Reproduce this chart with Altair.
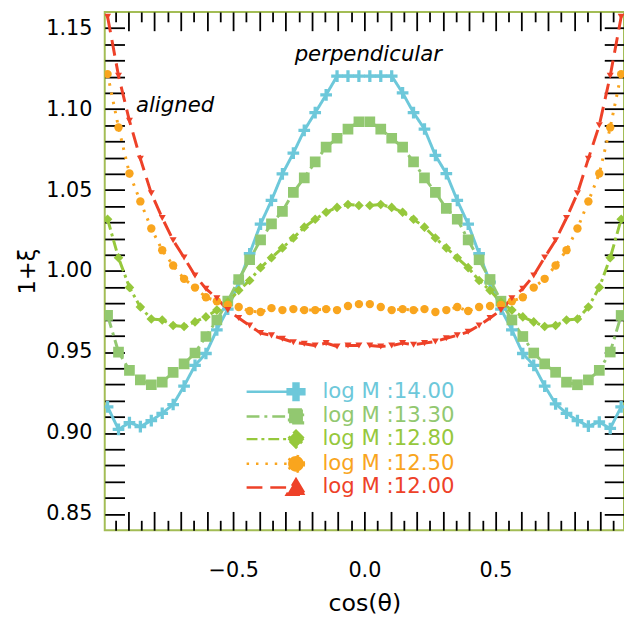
import altair as alt
import pandas as pd

FONT = "DejaVu Sans"
FRAME = "#a3bd55"

series_names = ["log M :14.00", "log M :13.30", "log M :12.80", "log M :12.50", "log M :12.00"]
colors = ["#6dc8da", "#92c870", "#96c83c", "#f9a51e", "#ee4128"]

cos_theta = [-0.9792, -0.9375, -0.8958, -0.8542, -0.8125, -0.7708, -0.7292, -0.6875,
             -0.6458, -0.6042, -0.5625, -0.5208, -0.4792, -0.4375, -0.3958, -0.3542,
             -0.3125, -0.2708, -0.2292, -0.1875, -0.1458, -0.1042, -0.0625, -0.0208,
             0.0208, 0.0625, 0.1042, 0.1458, 0.1875, 0.2292, 0.2708, 0.3125,
             0.3542, 0.3958, 0.4375, 0.4792, 0.5208, 0.5625, 0.6042, 0.6458,
             0.6875, 0.7292, 0.7708, 0.8125, 0.8542, 0.8958, 0.9375, 0.9792]

xi_1400 = [0.9162, 0.9022, 0.9064, 0.9040, 0.9077, 0.9122, 0.9176, 0.9290, 0.9418, 0.9491, 0.9637, 0.9765,
           0.9930, 1.0107, 1.0290, 1.0436, 1.0600, 1.0728, 1.0869, 1.0978, 1.1088, 1.1204, 1.1204, 1.1204,
           1.1204, 1.1204, 1.1204, 1.1100, 1.0978, 1.0877, 1.0714, 1.0602, 1.0436, 1.0290, 1.0107, 0.9932,
           0.9765, 0.9637, 0.9491, 0.9418, 0.9290, 0.9180, 0.9122, 0.9077, 0.9043, 0.9068, 0.9028, 0.9162]
xi_1330 = [0.9726, 0.9500, 0.9387, 0.9328, 0.9298, 0.9314, 0.9375, 0.9427, 0.9494, 0.9596, 0.9698, 0.9814,
           0.9948, 1.0070, 1.0192, 1.0291, 1.0369, 1.0486, 1.0576, 1.0674, 1.0765, 1.0820, 1.0877, 1.0922,
           1.0922, 1.0877, 1.0820, 1.0765, 1.0674, 1.0576, 1.0486, 1.0387, 1.0320, 1.0192, 1.0070, 0.9948,
           0.9814, 0.9698, 0.9596, 0.9494, 0.9427, 0.9375, 0.9314, 0.9298, 0.9328, 0.9387, 0.9500, 0.9726]
xi_1280 = [1.0320, 1.0082, 0.9899, 0.9778, 0.9704, 0.9698, 0.9664, 0.9658, 0.9686, 0.9717, 0.9759, 0.9808,
           0.9881, 0.9942, 1.0021, 1.0082, 1.0143, 1.0204, 1.0271, 1.0320, 1.0363, 1.0393, 1.0411, 1.0405,
           1.0405, 1.0411, 1.0393, 1.0363, 1.0320, 1.0271, 1.0204, 1.0143, 1.0082, 1.0021, 0.9942, 0.9881,
           0.9808, 0.9759, 0.9717, 0.9686, 0.9658, 0.9664, 0.9698, 0.9704, 0.9778, 0.9899, 1.0082, 1.0320]
xi_1250 = [1.1216, 1.0887, 1.0602, 1.0430, 1.0263, 1.0129, 1.0034, 0.9952, 0.9898, 0.9838, 0.9814, 0.9790,
           0.9778, 0.9753, 0.9747, 0.9771, 0.9759, 0.9765, 0.9759, 0.9759, 0.9765, 0.9759, 0.9784, 0.9796,
           0.9796, 0.9778, 0.9759, 0.9765, 0.9759, 0.9765, 0.9747, 0.9759, 0.9778, 0.9753, 0.9778, 0.9784,
           0.9790, 0.9814, 0.9838, 0.9898, 0.9952, 1.0034, 1.0129, 1.0263, 1.0430, 1.0602, 1.0887, 1.1216]
xi_1200 = [1.1570, 1.1206, 1.0928, 1.0694, 1.0480, 1.0328, 1.0190, 1.0084, 0.9973, 0.9891, 0.9832, 0.9759,
           0.9710, 0.9664, 0.9617, 0.9603, 0.9582, 0.9561, 0.9551, 0.9540, 0.9555, 0.9534, 0.9540, 0.9540,
           0.9540, 0.9534, 0.9540, 0.9555, 0.9545, 0.9555, 0.9565, 0.9585, 0.9603, 0.9625, 0.9664, 0.9710,
           0.9759, 0.9832, 0.9891, 0.9973, 1.0084, 1.0190, 1.0328, 1.0480, 1.0694, 1.0900, 1.1206, 1.1570]
series_values = [xi_1400, xi_1330, xi_1280, xi_1250, xi_1200]

ann_x = [0.015, -0.722]
ann_y = [1.1332, 1.1021]
ann_text = ["perpendicular", "aligned"]

tick_y = [round(0.85 + 0.01 * i, 2) for i in range(31)]
tick_x_major = [round(-0.9 + 0.1 * i, 1) for i in range(19)]
tick_x_minor = [round(-0.95 + 0.1 * i, 2) for i in range(20)]

rows = []
for name, vals in zip(series_names, series_values):
    for c, v in zip(cos_theta, vals):
        rows.append({"cos": c, "xi": v, "series": name, "half": "neg" if c < 0 else "pos"})
df = pd.DataFrame(rows)
ann_df = pd.DataFrame({"x": ann_x, "y": ann_y, "label": ann_text})

x_scale = alt.Scale(domain=[-0.99, 0.99], nice=False, zero=False)
y_scale = alt.Scale(domain=[0.84, 1.16], nice=False, zero=False)
color_scale = alt.Scale(domain=series_names, range=colors)
dash_scale = alt.Scale(domain=series_names, range=[[1, 0], [13, 5, 3, 5], [11, 4, 3, 4], [2.5, 7], [16, 8]])
width_scale = alt.Scale(domain=series_names, range=[3, 3, 2.5, 2.5, 3])

plus_path = "M-0.28,-1H0.28V-0.28H1V0.28H0.28V1H-0.28V0.28H-1V-0.28H-0.28Z"
plot_shapes = [plus_path, "square", "diamond", "circle", "triangle-down"]
plot_sizes = [140, 50, 45, 80, 75]

# legend symbol paths (unit = 9 px with symbolSize 324)
leg_line = "M-5.56,0H0"
legend_paths = [
    leg_line + "M-0.28,-0.94H0.28V-0.28H0.94V0.28H0.28V0.94H-0.28V0.28H-0.94V-0.28H-0.28Z",
    leg_line + "M-0.78,-0.78H0.78V0.78H-0.78Z",
    leg_line + "M0,-0.94L0.94,0L0,0.94L-0.94,0Z",
    leg_line + "M0.89,0A0.89,0.89,0,1,1,-0.89,0A0.89,0.89,0,1,1,0.89,0Z",
    leg_line + "M0,-0.94L1.05,0.83H-1.05Z",
]

label_color_expr = ""
for name, col in zip(series_names[:-1], colors[:-1]):
    label_color_expr += f"datum.label == '{name}' ? '{col}' : "
label_color_expr += f"'{colors[-1]}'"

common_tick = dict(tickColor="black", tickWidth=1.8, domain=False, grid=False)

ax_bottom_major = alt.Axis(
    orient="bottom", values=tick_x_major, offset=-19, tickSize=19, **common_tick,
    labelExpr="round(datum.value*10) % 5 == 0 ? format(datum.value, '.1f') : ''",
    labelFont=FONT, labelFontSize=21, labelColor="black", labelPadding=30,
    labelFlush=False, labelOverlap=False,
    title="cos(θ)", titleFont=FONT, titleFontSize=24, titleFontWeight="normal",
    titleColor="black", titlePadding=11)
ax_bottom_minor = alt.Axis(orient="bottom", values=tick_x_minor, offset=-10, tickSize=10,
                           labels=False, title=None, **common_tick)
ax_top_major = alt.Axis(orient="top", values=tick_x_major, offset=-19, tickSize=19,
                        labels=False, title=None, **common_tick)
ax_top_minor = alt.Axis(orient="top", values=tick_x_minor, offset=-10, tickSize=10,
                        labels=False, title=None, **common_tick)
ax_left = alt.Axis(
    orient="left", values=tick_y, offset=-20, tickSize=20, **common_tick,
    labelExpr="round(datum.value*100) % 5 == 0 ? format(datum.value, '.2f') : ''",
    labelFont=FONT, labelFontSize=21, labelColor="black", labelPadding=13,
    labelOverlap=False, labelFlush=False,
    title="1+ξ", titleFont=FONT, titleFontSize=23, titleFontWeight="normal",
    titleColor="black", titlePadding=6)
ax_right = alt.Axis(orient="right", values=tick_y, offset=-20, tickSize=20,
                    labels=False, title=None, **common_tick)

lines = alt.Chart(df).mark_line(clip=True).encode(
    x=alt.X("cos:Q", scale=x_scale, axis=ax_bottom_major),
    y=alt.Y("xi:Q", scale=y_scale, axis=ax_left),
    color=alt.Color("series:N", scale=color_scale, legend=None),
    strokeDash=alt.StrokeDash("series:N", scale=dash_scale, legend=None),
    strokeWidth=alt.StrokeWidth("series:N", scale=width_scale, legend=None),
    detail="half:N",
)

points = alt.Chart(df).mark_point(filled=True, opacity=1, clip=True).encode(
    x=alt.X("cos:Q", scale=x_scale, axis=ax_bottom_minor),
    y=alt.Y("xi:Q", scale=y_scale, axis=None),
    color=alt.Color("series:N", scale=color_scale, legend=None),
    shape=alt.Shape("series:N", scale=alt.Scale(domain=series_names, range=plot_shapes), legend=None),
    size=alt.Size("series:N", scale=alt.Scale(domain=series_names, range=plot_sizes), legend=None),
)

legend_def = alt.Legend(
    orient="none", legendX=183, legendY=374, title=None, padding=0,
    symbolSize=324, symbolStrokeWidth=2.5, symbolOpacity=1,
    labelFont=FONT, labelFontSize=21.5, labelColor={"expr": label_color_expr},
    labelOffset=16, labelLimit=400, rowPadding=-4,
)

carrier = alt.Chart(df).mark_point(filled=True, opacity=0, size=324).encode(
    x=alt.X("cos:Q", scale=x_scale, axis=ax_top_major),
    y=alt.Y("xi:Q", scale=y_scale, axis=ax_right),
    fill=alt.Fill("series:N", scale=alt.Scale(domain=series_names, range=colors), legend=legend_def),
    stroke=alt.Stroke("series:N", scale=alt.Scale(domain=series_names, range=colors)),
    shape=alt.Shape("series:N", scale=alt.Scale(domain=series_names, range=legend_paths)),
    strokeDash=alt.StrokeDash("series:N", scale=dash_scale),
)

annot = alt.Chart(ann_df).mark_text(font=FONT, fontSize=21.5, fontStyle="italic", color="black").encode(
    x=alt.X("x:Q", scale=x_scale, axis=ax_top_minor),
    y=alt.Y("y:Q", scale=y_scale, axis=None),
    text="label:N",
)

chart = alt.layer(lines, points, carrier, annot).resolve_scale(
    shape="independent", fill="independent", stroke="independent", strokeDash="independent"
).resolve_axis(
    x="independent", y="independent"
).properties(
    width=526, height=525,
    padding={"left": 98, "top": 0, "right": 0, "bottom": 88},
    autosize=alt.AutoSizeParams(type="none"),
    background="white",
).configure_view(stroke=FRAME, strokeWidth=2).configure_legend(symbolFillColor="#000000")

chart.save("out.html", embed_options={"renderer": "svg", "actions": False})
